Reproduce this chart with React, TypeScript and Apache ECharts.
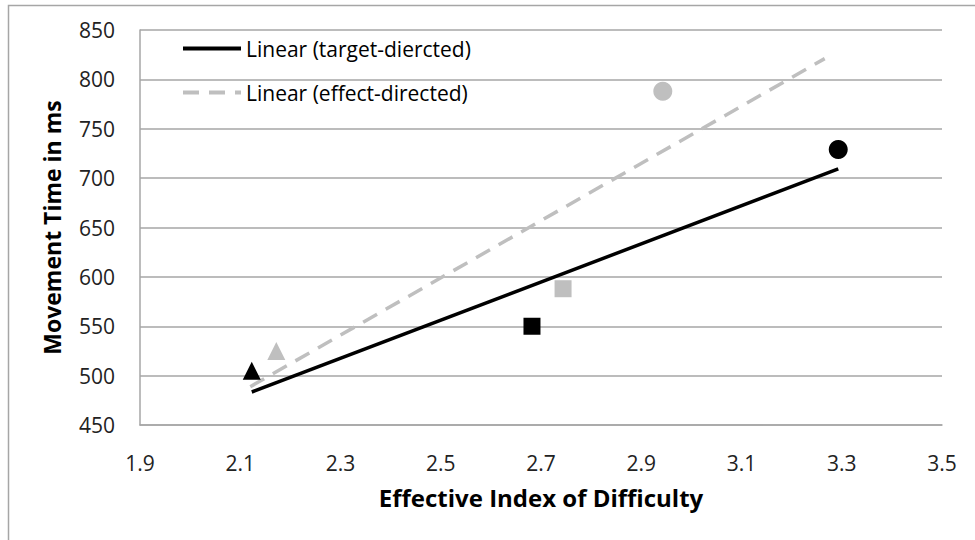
import React, { useEffect, useRef } from "react";
import * as echarts from "echarts";

// Mean movement time per condition, by effective index of difficulty
const conditionSymbols = ["triangle", "rect", "circle"];
const targetDirectedIDe = [2.123, 2.682, 3.293];
const targetDirectedMT = [505, 550, 729];
const effectDirectedIDe = [2.172, 2.744, 2.943];
const effectDirectedMT = [525, 588, 788];

// x extent over which each fitted trend line is drawn
const targetTrendRange = [2.123, 3.293];
const effectTrendRange = [2.12, 3.266];

const xTicks = [1.9, 3.5, 0.2]; // min, max, interval
const yTicks = [450, 850, 50];

const FONT = "Open Sans";

function linearFit(xs: number[], ys: number[]) {
  const n = xs.length;
  const mx = xs.reduce((a, b) => a + b, 0) / n;
  const my = ys.reduce((a, b) => a + b, 0) / n;
  let sxy = 0;
  let sxx = 0;
  for (let i = 0; i < n; i++) {
    sxy += (xs[i] - mx) * (ys[i] - my);
    sxx += (xs[i] - mx) * (xs[i] - mx);
  }
  const slope = sxy / sxx;
  const intercept = my - slope * mx;
  return (x: number) => intercept + slope * x;
}

function trendPoints(xs: number[], ys: number[], range: number[]) {
  const f = linearFit(xs, ys);
  return range.map((x) => [x, f(x)]);
}

function points(xs: number[], ys: number[]) {
  return xs.map((x, i) => ({
    value: [x, ys[i]],
    symbol: conditionSymbols[i],
    symbolSize: conditionSymbols[i] === "circle" ? 19 : conditionSymbols[i] === "rect" ? 17 : 18,
  }));
}

export default function App() {
  const ref = useRef<HTMLDivElement>(null);

  useEffect(() => {
    if (!ref.current) return;
    const chart = echarts.init(ref.current, undefined, { renderer: "svg" });
    const black = "#000000";
    const gray = "#bfbfbf";
    const axisGray = "#a6a6a6";

    chart.setOption({
      animation: false,
      backgroundColor: "#ffffff",
      graphic: [
        {
          type: "rect",
          shape: { x: 8.5, y: 5.5, width: 1000, height: 600 },
          style: { fill: "none", stroke: axisGray, lineWidth: 1.5 },
          silent: true,
        },
      ],
      grid: { left: 140, right: 33, top: 30, bottom: 115 },
      legend: {
        orient: "vertical",
        left: 176,
        top: 33,
        itemWidth: 58,
        itemHeight: 14,
        itemGap: 23,
        data: ["Linear (target-diercted)", "Linear (effect-directed)"],
        itemStyle: { opacity: 0 },
        lineStyle: { width: 4 },
        textStyle: { fontFamily: FONT, fontSize: 21, color: "#000" },
      },
      xAxis: {
        type: "value",
        min: xTicks[0],
        max: xTicks[1],
        interval: xTicks[2],
        name: "Effective Index of Difficulty",
        nameLocation: "middle",
        nameGap: 60,
        nameTextStyle: { fontFamily: FONT, fontSize: 24, fontWeight: "bold", color: "#000" },
        axisLine: { show: true, onZero: false, lineStyle: { color: axisGray, width: 1.5 } },
        axisTick: { show: false },
        splitLine: { show: false },
        axisLabel: {
          fontFamily: FONT,
          fontSize: 21,
          color: "#222",
          margin: 27,
          formatter: (v: number) => v.toFixed(1),
        },
      },
      yAxis: {
        type: "value",
        min: yTicks[0],
        max: yTicks[1],
        interval: yTicks[2],
        name: "Movement Time in ms",
        nameLocation: "middle",
        nameGap: 77,
        nameTextStyle: { fontFamily: FONT, fontSize: 23, fontWeight: "bold", color: "#000" },
        axisLine: { show: true, lineStyle: { color: axisGray, width: 1.5 } },
        axisTick: { show: false },
        splitLine: { show: true, lineStyle: { color: axisGray, width: 1.5 } },
        axisLabel: { fontFamily: FONT, fontSize: 21, color: "#222", margin: 25 },
      },
      series: [
        {
          name: "Linear (target-diercted)",
          type: "line",
          data: trendPoints(targetDirectedIDe, targetDirectedMT, targetTrendRange),
          symbol: "none",
          lineStyle: { color: black, width: 3.5 },
          itemStyle: { color: black },
          z: 2,
        },
        {
          name: "Linear (effect-directed)",
          type: "line",
          data: trendPoints(effectDirectedIDe, effectDirectedMT, effectTrendRange),
          symbol: "none",
          lineStyle: { color: gray, width: 3.5, type: [16, 10] },
          itemStyle: { color: gray },
          z: 2,
        },
        {
          name: "target-directed",
          type: "scatter",
          data: points(targetDirectedIDe, targetDirectedMT),
          itemStyle: { color: black, opacity: 1 },
          z: 3,
        },
        {
          name: "effect-directed",
          type: "scatter",
          data: points(effectDirectedIDe, effectDirectedMT),
          itemStyle: { color: gray, opacity: 1 },
          z: 3,
        },
      ],
    });

    return () => chart.dispose();
  }, []);

  return (
    <div
      ref={ref}
      style={{ position: "absolute", left: 0, top: 0, width: 975, height: 540 }}
    />
  );
}
